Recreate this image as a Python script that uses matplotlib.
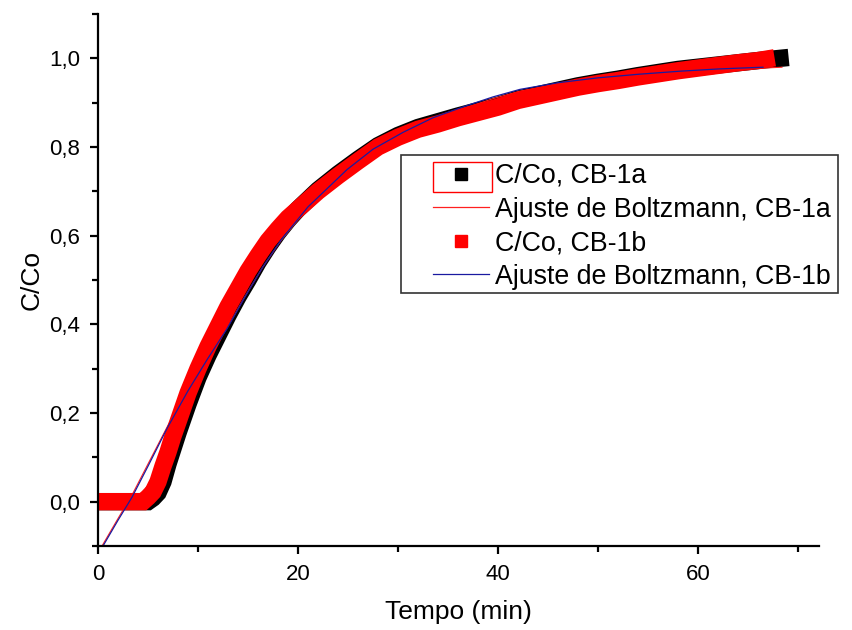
import matplotlib
matplotlib.use("Agg")
import matplotlib.pyplot as plt
from matplotlib.lines import Line2D
from matplotlib.patches import Rectangle

plt.rcParams['font.family'] = ['Liberation Sans', 'DejaVu Sans']

# C/Co, CB-1a (black squares)
t_a = [0, 1, 2, 3, 4, 5, 5.5, 6, 6.5, 7, 7.5, 8, 9, 10, 11, 12, 13, 14, 15, 16, 17, 18, 19, 20,
       22, 24, 26, 28, 30, 32, 34, 36, 38, 40, 42, 44, 46, 48, 50, 52, 54, 56, 58, 60, 62, 64, 66, 68.2]
c_a = [0, 0, 0, 0, 0, 0, 0.008, 0.02, 0.045, 0.085, 0.12, 0.155, 0.22, 0.28, 0.33, 0.375, 0.42, 0.462,
       0.50, 0.54, 0.575, 0.607, 0.635, 0.66, 0.703, 0.739, 0.772, 0.803, 0.826, 0.844, 0.857, 0.87,
       0.882, 0.894, 0.908, 0.918, 0.928, 0.938, 0.946, 0.953, 0.961, 0.968, 0.975, 0.98, 0.985, 0.99,
       0.995, 1.0]

# C/Co, CB-1b (red squares)
t_b = [0, 1, 2, 3, 4, 4.5, 5, 5.5, 6, 6.5, 7, 7.5, 8, 9, 10, 11, 12, 13, 14, 15, 16, 17, 18, 19, 20,
       22, 24, 26, 28, 30, 32, 34, 36, 38, 40, 42, 44, 46, 48, 50, 52, 54, 56, 58, 60, 62, 64, 66, 66.8]
c_b = [0, 0, 0, 0, 0, 0, 0.01, 0.022, 0.045, 0.08, 0.112, 0.148, 0.18, 0.245, 0.30, 0.35, 0.395, 0.44,
       0.48, 0.52, 0.555, 0.588, 0.615, 0.64, 0.66, 0.70, 0.735, 0.768, 0.80, 0.822, 0.84, 0.852, 0.866,
       0.878, 0.89, 0.905, 0.915, 0.925, 0.935, 0.943, 0.95, 0.958, 0.965, 0.972, 0.978, 0.984, 0.99,
       0.995, 0.998]

# Boltzmann fits
fit_a_t = [0.4, 2, 3.4, 5, 6.9, 9, 10.9, 12.9, 14.7, 16.5, 18.3, 21, 24.9, 27.5, 30.5, 33.5, 36.7,
           39.5, 42.2, 46, 50, 54, 58.2, 62, 66.5, 68.4]
fit_a_y = [-0.10, -0.038, 0.015, 0.085, 0.168, 0.252, 0.322, 0.392, 0.463, 0.53, 0.589, 0.663, 0.746,
           0.792, 0.83, 0.862, 0.888, 0.909, 0.926, 0.942, 0.953, 0.962, 0.969, 0.974, 0.978, 0.98]
fit_b_t = [0.5, 2, 3.4, 5, 6.9, 9, 10.9, 12.9, 14.7, 16.5, 18.3, 21, 24.9, 27.5, 30.5, 33.5, 36.7,
           39.5, 42.2, 46, 50, 54, 58.2, 62, 66.5]
fit_b_y = [-0.10, -0.042, 0.01, 0.08, 0.165, 0.25, 0.32, 0.39, 0.462, 0.53, 0.59, 0.665, 0.749, 0.795,
           0.833, 0.866, 0.892, 0.913, 0.93, 0.945, 0.956, 0.964, 0.971, 0.976, 0.98]

labels = ["C/Co, CB-1a", "Ajuste de Boltzmann, CB-1a", "C/Co, CB-1b", "Ajuste de Boltzmann, CB-1b"]
xticks = [0, 20, 40, 60]
yticks = [0.0, 0.2, 0.4, 0.6, 0.8, 1.0]
yticklabels = ["0,0", "0,2", "0,4", "0,6", "0,8", "1,0"]

fig = plt.figure(figsize=(8.53, 6.3), dpi=100)
ax = fig.add_axes([98/853, 84/630, 721/853, 532/630])

band = dict(lw=12.5, solid_capstyle='projecting', solid_joinstyle='miter')
ax.plot(t_a, c_a, color='black', **band)
ax.plot(fit_a_t, fit_a_y, color='#ff2020', lw=0.8)
ax.plot(t_b, c_b, color='#ff0000', **band)
ax.plot(fit_b_t, fit_b_y, color='#1a1aa0', lw=0.9)

ax.set_xlim(0, 72.1)
ax.set_ylim(-0.1, 1.1)
ax.set_xticks(xticks)
ax.set_xticks([10, 30, 50, 70], minor=True)
ax.set_yticks(yticks)
ax.set_yticklabels(yticklabels)
ax.set_yticks([-0.1, 0.1, 0.3, 0.5, 0.7, 0.9, 1.1], minor=True)
for s in ['top', 'right']:
    ax.spines[s].set_visible(False)
for s in ['left', 'bottom']:
    ax.spines[s].set_linewidth(1.6)
ax.tick_params(which='major', direction='out', length=6, width=1.6, labelsize=16, pad=7)
ax.tick_params(which='minor', direction='out', length=4, width=1.6)
ax.set_xlabel("Tempo (min)", fontsize=19, labelpad=11)
ax.set_ylabel("C/Co", fontsize=19, labelpad=4)

handles = [Line2D([], [], ls='none', marker='s', ms=8.5, color='black'),
           Line2D([], [], color='#ff2020', lw=0.9),
           Line2D([], [], ls='none', marker='s', ms=8.5, color='#ff0000'),
           Line2D([], [], color='#1a1aa0', lw=0.9)]
ax.legend(handles, labels, loc='upper left', bbox_to_anchor=(335/721, (546-163)/532),
          borderaxespad=0, frameon=False, fontsize=19.3, handlelength=2.1,
          handletextpad=0.2, labelspacing=0.28, borderpad=0)
fig.patches.append(Rectangle((401/853, (630-293)/630), 437/853, 138/630, transform=fig.transFigure,
                             fill=False, edgecolor='#333333', lw=1.2, figure=fig))
fig.patches.append(Rectangle((433/853, (630-192)/630), 59/853, 30/630, transform=fig.transFigure,
                             fill=False, edgecolor='red', lw=1, figure=fig))

fig.savefig("out.png", dpi=100)
